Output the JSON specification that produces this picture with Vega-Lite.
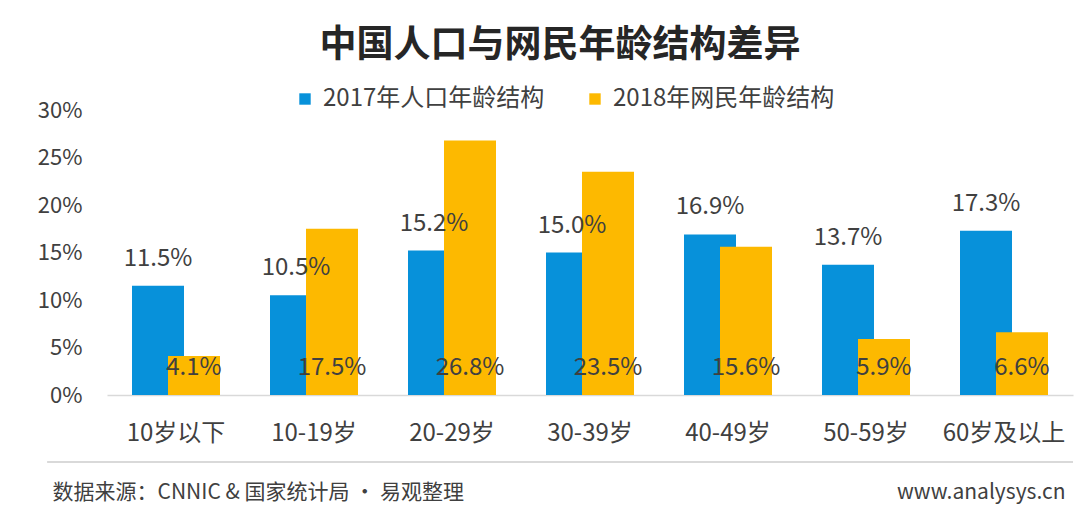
{
  "$schema": "https://vega.github.io/schema/vega-lite/v6.json",
  "width": 966,
  "height": 285,
  "autosize": {"type": "none"},
  "padding": {"left": 107, "top": 110, "right": 7, "bottom": 132},
  "background": "white",
  "title": {
    "text": "中国人口与网民年龄结构差异",
    "font": "Noto Sans CJK SC",
    "fontSize": 37,
    "fontWeight": "bold",
    "color": "#262626",
    "anchor": "middle",
    "dx": -30,
    "offset": 22
  },
  "config": {
    "view": {"stroke": null},
    "font": "Noto Sans CJK SC",
    "text": {"font": "Noto Sans CJK SC"}
  },
  "data": {
    "values": [
      {"age": "10岁以下", "series": "2017年人口年龄结构", "value": 0.115},
      {"age": "10-19岁", "series": "2017年人口年龄结构", "value": 0.105},
      {"age": "20-29岁", "series": "2017年人口年龄结构", "value": 0.152},
      {"age": "30-39岁", "series": "2017年人口年龄结构", "value": 0.150},
      {"age": "40-49岁", "series": "2017年人口年龄结构", "value": 0.169},
      {"age": "50-59岁", "series": "2017年人口年龄结构", "value": 0.137},
      {"age": "60岁及以上", "series": "2017年人口年龄结构", "value": 0.173},
      {"age": "10岁以下", "series": "2018年网民年龄结构", "value": 0.041},
      {"age": "10-19岁", "series": "2018年网民年龄结构", "value": 0.175},
      {"age": "20-29岁", "series": "2018年网民年龄结构", "value": 0.268},
      {"age": "30-39岁", "series": "2018年网民年龄结构", "value": 0.235},
      {"age": "40-49岁", "series": "2018年网民年龄结构", "value": 0.156},
      {"age": "50-59岁", "series": "2018年网民年龄结构", "value": 0.059},
      {"age": "60岁及以上", "series": "2018年网民年龄结构", "value": 0.066}
    ]
  },
  "resolve": {"scale": {"x": "independent"}, "axis": {"x": "independent"}},
  "layer": [
    {
      "layer": [
        {
          "transform": [{"filter": "datum.series === '2017年人口年龄结构'"}],
          "mark": {"type": "bar", "width": 52, "xOffset": -18},
          "encoding": {
            "x": {
              "field": "age", "type": "nominal", "sort": null,
              "scale": {"paddingInner": 0, "paddingOuter": 0},
              "axis": {
                "title": "数据来源：CNNIC & 国家统计局 · 易观整理",
                "titleX": -55, "titleY": 97, "titleAlign": "left", "titleBaseline": "middle",
                "titleFontSize": 21, "titleFontWeight": "normal", "titleColor": "#404040",
                "titleFont": "Noto Sans CJK SC",
                "labelAngle": 0, "labelFontSize": 24, "labelColor": "#404040", "labelPadding": 26,
                "labelFont": "Noto Sans CJK SC",
                "ticks": false, "domain": true, "domainColor": "#d9d9d9", "domainWidth": 1.5
              }
            },
            "y": {
              "field": "value", "type": "quantitative",
              "scale": {"domain": [0, 0.3], "nice": false, "zero": true},
              "axis": {
                "values": [0, 0.05, 0.1, 0.15, 0.2, 0.25, 0.3],
                "format": ".0%",
                "grid": false, "ticks": false, "domain": false,
                "labelFontSize": 22, "labelColor": "#404040", "labelPadding": 25,
                "labelFont": "Noto Sans CJK SC",
                "title": "www.analysys.cn",
                "titleAngle": 0, "titleX": 958, "titleY": 382, "titleAlign": "right",
                "titleBaseline": "middle", "titleFontSize": 21, "titleFontWeight": "normal",
                "titleColor": "#404040", "titleFont": "Noto Sans CJK SC"
              }
            },
            "color": {
              "field": "series", "type": "nominal",
              "scale": {"domain": ["2017年人口年龄结构", "2018年网民年龄结构"], "range": ["#0791DA", "#FDB900"]},
              "legend": {
                "title": null, "orient": "none", "direction": "horizontal",
                "legendX": 186, "legendY": -23,
                "symbolType": "square", "symbolSize": 130, "symbolStrokeWidth": 0,
                "labelFontSize": 24, "labelColor": "#404040", "labelFont": "Noto Sans CJK SC",
                "labelOffset": 6, "columnPadding": 38, "labelLimit": 400
              }
            }
          }
        },
        {
          "transform": [{"filter": "datum.series === '2018年网民年龄结构'"}],
          "mark": {"type": "bar", "width": 52, "xOffset": 18},
          "encoding": {
            "x": {"field": "age", "type": "nominal", "sort": null},
            "y": {"field": "value", "type": "quantitative"},
            "color": {"field": "series", "type": "nominal"}
          }
        },
        {
          "transform": [{"filter": "datum.series === '2017年人口年龄结构'"}],
          "mark": {"type": "text", "xOffset": -18, "dy": -20, "baseline": "alphabetic", "fontSize": 24, "color": "#404040"},
          "encoding": {
            "x": {"field": "age", "type": "nominal", "sort": null},
            "y": {"field": "value", "type": "quantitative"},
            "text": {"field": "value", "type": "quantitative", "format": ".1%"}
          }
        },
        {
          "transform": [{"filter": "datum.series === '2018年网民年龄结构'"}],
          "mark": {"type": "text", "xOffset": 18, "dy": -20, "baseline": "alphabetic", "fontSize": 24, "color": "#404040"},
          "encoding": {
            "x": {"field": "age", "type": "nominal", "sort": null},
            "y": {"datum": 0, "type": "quantitative"},
            "text": {"field": "value", "type": "quantitative", "format": ".1%"}
          }
        }
      ]
    },
    {
      "data": {"values": [{"k": 1}]},
      "mark": {"type": "rule", "color": "#cccccc", "strokeWidth": 1.5},
      "encoding": {
        "x": {"datum": -0.062, "type": "quantitative", "scale": {"domain": [0, 1]}, "axis": null},
        "x2": {"datum": 1},
        "y": {"datum": -0.0705, "type": "quantitative"}
      }
    }
  ]
}
